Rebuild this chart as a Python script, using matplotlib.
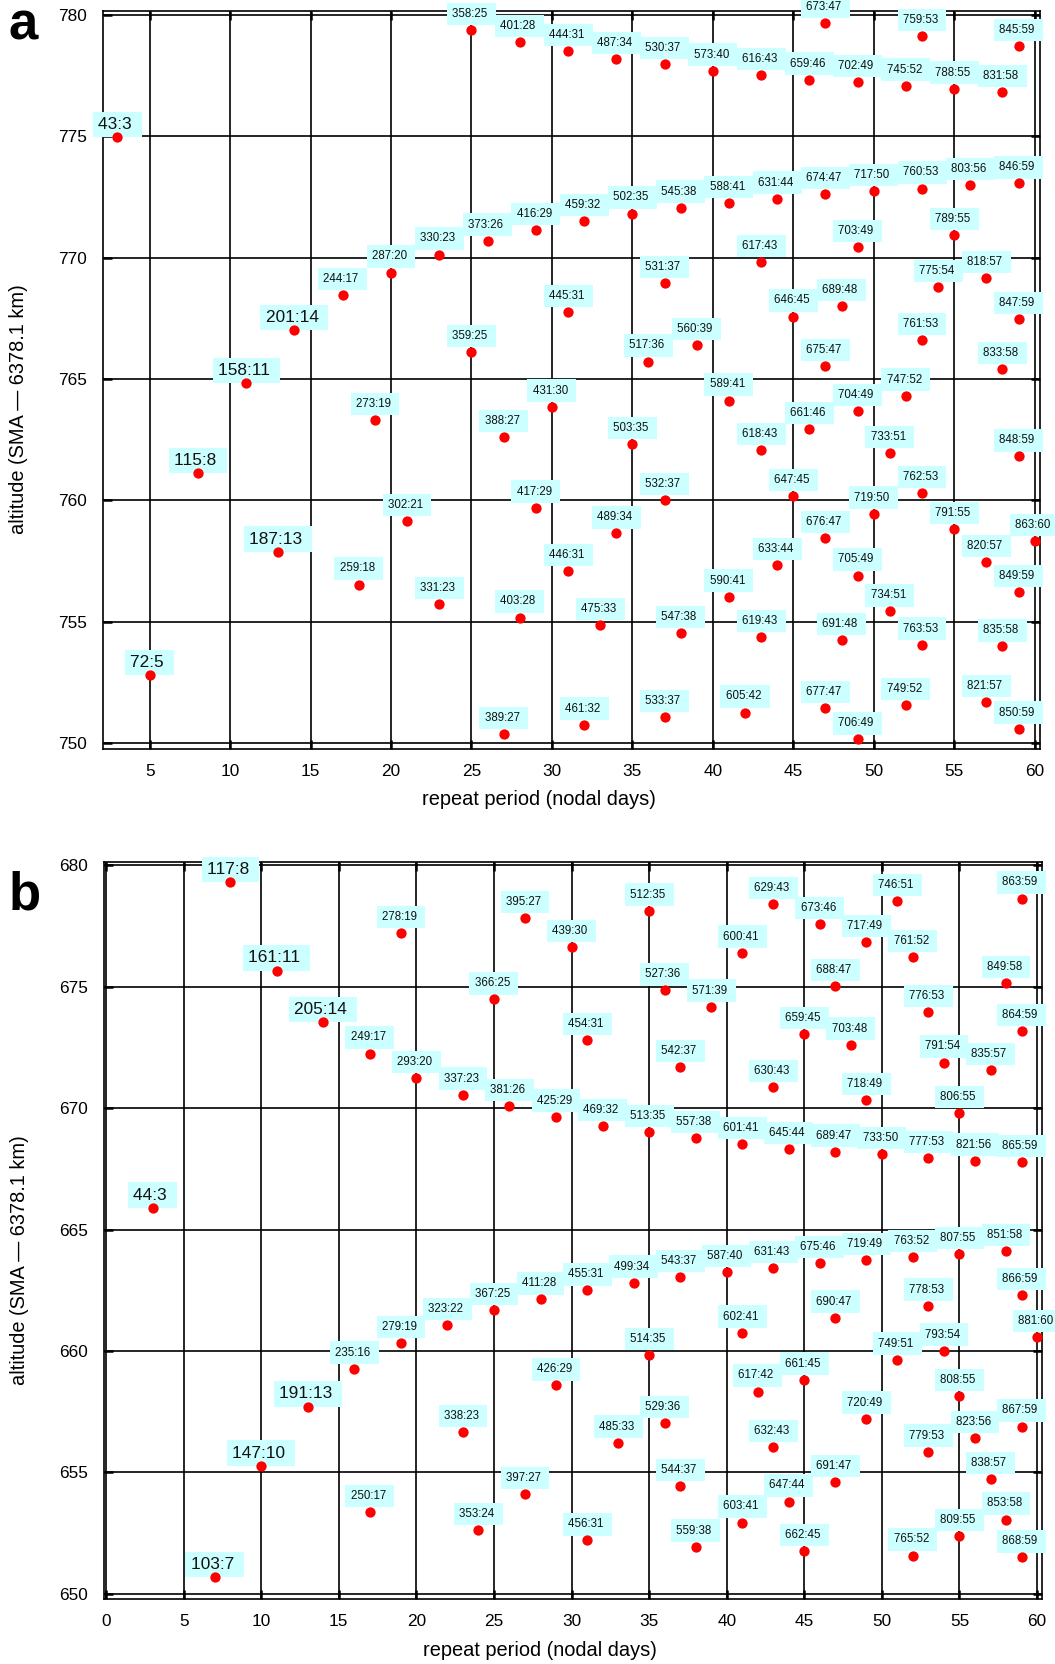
import matplotlib
matplotlib.use('Agg')
import matplotlib.pyplot as plt

plt.rcParams['font.family'] = ['Liberation Sans', 'DejaVu Sans']

# panel a : revolutions, repeat period (nodal days), altitude (km)
a_revs = [43, 72, 115, 158, 187, 201, 244, 259, 273, 287, 302, 330, 331, 358, 359, 373, 388, 389,
          401, 403, 416, 417, 431, 444, 445, 446, 459, 461, 475, 487, 489, 502, 503, 517, 530, 531,
          532, 533, 545, 547, 560, 573, 588, 589, 590, 605, 616, 617, 618, 619, 631, 633, 646, 647,
          659, 661, 673, 674, 675, 676, 677, 689, 691, 702, 703, 704, 705, 706, 717, 719, 733, 734,
          745, 747, 749, 759, 760, 761, 762, 763, 775, 788, 789, 791, 803, 818, 820, 821, 831, 833,
          835, 845, 846, 847, 848, 849, 850, 863]
a_days = [3, 5, 8, 11, 13, 14, 17, 18, 19, 20, 21, 23, 23, 25, 25, 26, 27, 27,
          28, 28, 29, 29, 30, 31, 31, 31, 32, 32, 33, 34, 34, 35, 35, 36, 37, 37,
          37, 37, 38, 38, 39, 40, 41, 41, 41, 42, 43, 43, 43, 43, 44, 44, 45, 45,
          46, 46, 47, 47, 47, 47, 47, 48, 48, 49, 49, 49, 49, 49, 50, 50, 51, 51,
          52, 52, 52, 53, 53, 53, 53, 53, 54, 55, 55, 55, 56, 57, 57, 57, 58, 58,
          58, 59, 59, 59, 59, 59, 59, 60]
a_alt = [774.96, 752.81, 761.12, 764.83, 757.89, 767.02, 768.45, 756.54, 763.30, 769.38, 759.15,
         770.12, 755.73, 779.37, 766.11, 770.69, 762.61, 750.39, 778.86, 755.18, 771.13, 759.70,
         763.86, 778.49, 767.76, 757.10, 771.49, 750.77, 754.87, 778.18, 758.64, 771.81, 762.31,
         765.72, 777.95, 768.94, 760.01, 751.07, 772.05, 754.55, 766.39, 777.69, 772.24, 764.11,
         756.04, 751.27, 777.51, 769.80, 762.07, 754.37, 772.42, 757.34, 767.57, 760.19, 777.32,
         762.93, 779.67, 772.61, 765.53, 758.45, 751.44, 768.01, 754.24, 777.21, 770.43, 763.67,
         756.91, 750.16, 772.73, 759.45, 761.94, 755.43, 777.07, 764.31, 751.58, 779.12, 772.84,
         766.60, 760.31, 754.06, 768.77, 776.95, 770.92, 758.82, 772.98, 769.14, 757.47, 751.70,
         776.82, 765.41, 753.99, 778.69, 773.05, 767.46, 761.81, 756.23, 750.60, 758.33]

# panel b
b_revs = [44, 103, 117, 147, 161, 191, 205, 235, 249, 250, 278, 279, 293, 323, 337, 338, 353, 366,
          367, 381, 395, 397, 411, 425, 426, 439, 454, 455, 456, 469, 485, 499, 512, 513, 514, 527,
          529, 542, 543, 544, 557, 559, 571, 587, 600, 601, 602, 603, 617, 629, 630, 631, 632, 645,
          647, 659, 661, 662, 673, 675, 688, 689, 690, 691, 703, 717, 718, 719, 720, 733, 746, 749,
          761, 763, 765, 776, 777, 778, 779, 791, 793, 806, 807, 808, 809, 821, 823, 835, 838, 849,
          851, 853, 863, 864, 865, 866, 867, 868, 881]
b_days = [3, 7, 8, 10, 11, 13, 14, 16, 17, 17, 19, 19, 20, 22, 23, 23, 24, 25,
          25, 26, 27, 27, 28, 29, 29, 30, 31, 31, 31, 32, 33, 34, 35, 35, 35, 36,
          36, 37, 37, 37, 38, 38, 39, 40, 41, 41, 41, 41, 42, 43, 43, 43, 43, 44,
          44, 45, 45, 45, 46, 46, 47, 47, 47, 47, 48, 49, 49, 49, 49, 50, 51, 51,
          52, 52, 52, 53, 53, 53, 53, 54, 54, 55, 55, 55, 55, 56, 56, 57, 57, 58,
          58, 58, 59, 59, 59, 59, 59, 59, 60]
b_alt = [665.90, 650.69, 679.30, 655.28, 675.66, 657.71, 673.54, 659.27, 672.24, 653.36, 677.19,
         660.32, 671.24, 661.07, 670.55, 656.66, 652.62, 674.47, 661.68, 670.08, 677.81, 654.11,
         662.12, 669.64, 658.58, 676.63, 672.79, 662.49, 652.20, 669.25, 656.22, 662.81, 678.12,
         669.01, 659.82, 674.84, 657.04, 671.68, 663.05, 654.43, 668.76, 651.94, 674.17, 663.24,
         676.39, 668.51, 660.75, 652.94, 658.33, 678.40, 670.87, 663.42, 656.03, 668.32, 653.80,
         673.05, 658.82, 651.76, 677.58, 663.61, 675.03, 668.20, 661.37, 654.61, 672.61, 676.84,
         670.32, 663.74, 657.21, 668.09, 678.51, 659.64, 676.21, 663.86, 651.58, 673.96, 667.95,
         661.86, 655.85, 671.87, 660.01, 669.80, 663.98, 658.15, 652.39, 667.83, 656.41, 671.55,
         654.73, 675.14, 664.10, 653.06, 678.62, 673.16, 667.77, 662.31, 656.89, 651.50, 660.57]


def draw_panel(ax, revs, days, alt, xlim, ylim, xticks, yticks):
    ax.set_xlim(xlim)
    ax.set_ylim(ylim)
    ax.set_xticks(xticks)
    ax.set_yticks(yticks)
    ax.set_axisbelow(True)
    ax.grid(True, color='black', linewidth=1.2)
    for s in ax.spines.values():
        s.set_linewidth(1.2)
    ax.tick_params(direction='in', length=6.5, width=1.8, top=True, right=True,
                   labeltop=False, labelright=False, labelsize=12.4)
    ax.tick_params(axis='x', pad=10.5)
    ax.tick_params(axis='y', pad=11.5)

    ax.scatter(days, alt, s=55, color='red', linewidths=0, zorder=5, clip_on=False)

    # labels "revs:days" in cyan boxes above each point
    for r, d, h in zip(revs, days, alt):
        big = d <= 14
        fs = 12.4 if big else 8.3
        pad = 0.3 if big else 0.45
        off = 3.7 if big else 7.3
        ax.annotate(f'{r}:{d} ', (d, h), xytext=(0, off), textcoords='offset points',
                    ha='center', va='bottom', fontsize=fs, color='#111111',
                    bbox=dict(boxstyle=f'square,pad={pad}', fc='#ccffff', ec='none'),
                    zorder=4, annotation_clip=False)

    ax.set_xlabel('repeat period (nodal days)', fontsize=14.4)
    ax.set_ylabel('altitude (SMA \u2014 6378.1 km)', fontsize=14.4)
    ax.xaxis.set_label_coords(0.465, -0.056)
    ax.yaxis.set_label_coords(-0.08, 0.46)


fig = plt.figure(figsize=(10.55, 16.64), dpi=100)

ax1 = fig.add_axes([0.0976, 0.5499, 0.888, 0.4435])
draw_panel(ax1, a_revs, a_days, a_alt, (2.1, 60.32), (749.77, 780.15),
           range(5, 61, 5), range(750, 781, 5))

ax2 = fig.add_axes([0.0986, 0.0389, 0.8888, 0.4431])
draw_panel(ax2, b_revs, b_days, b_alt, (-0.13, 60.3), (649.78, 680.13),
           range(0, 61, 5), range(650, 681, 5))

fig.text(0.0085, 1 - 40 / 1664, 'a', fontsize=38, fontweight='bold', va='baseline')
fig.text(0.0085, 1 - 910 / 1664, 'b', fontsize=38, fontweight='bold', va='baseline')

fig.savefig('out.png', dpi=100)
